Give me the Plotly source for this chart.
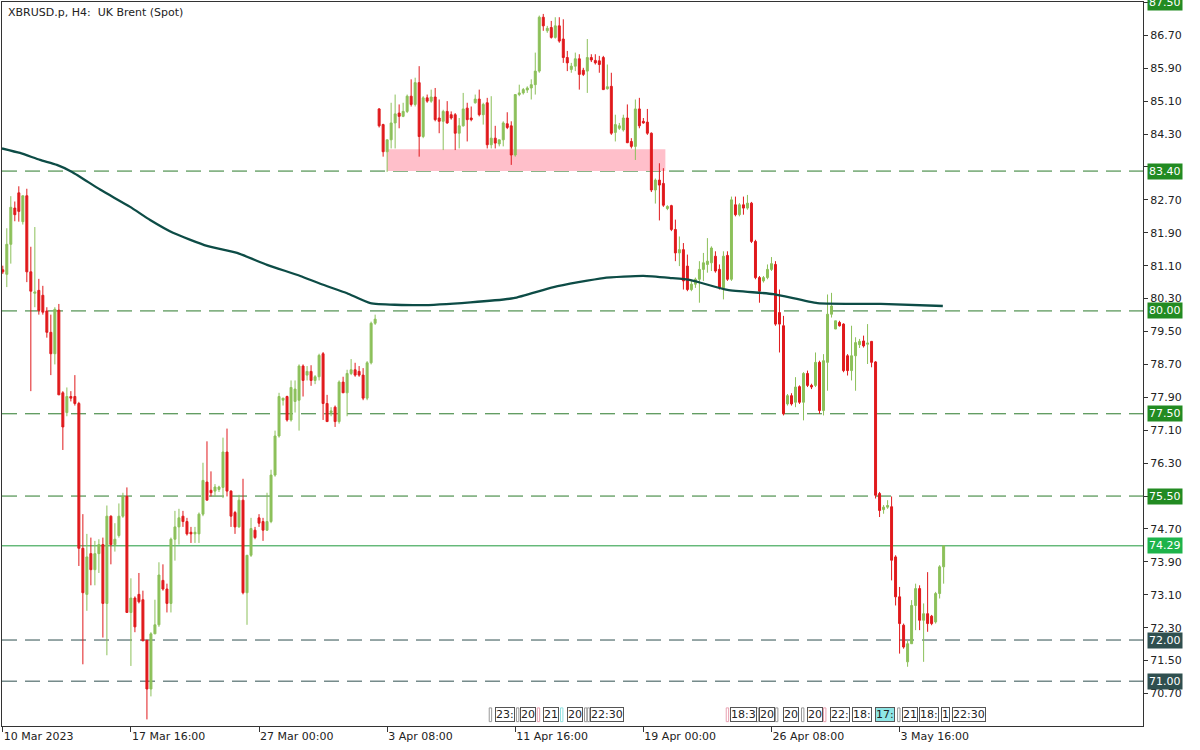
import plotly.graph_objects as go

title_text = "XBRUSD.p, H4:  UK Brent (Spot)"

opens = [81.00, 80.89, 81.62, 82.50, 82.87, 82.17, 82.80, 80.95, 80.43, 80.50,
         80.38, 80.00, 79.48, 78.96, 80.02, 78.01, 77.53, 77.92, 77.92, 77.75,
         74.23, 73.11, 74.10, 73.71, 74.10, 74.32, 72.89, 75.01, 74.32, 74.54,
         75.01, 75.49, 72.67, 73.02, 73.11, 72.98, 71.99, 70.81, 72.15, 72.37,
         73.45, 73.24, 72.89, 74.45, 74.75, 75.01, 74.88, 74.62, 74.58, 74.58,
         75.06, 75.84, 75.64, 75.62, 75.66, 75.71, 76.57, 75.62, 75.10, 74.75,
         75.40, 73.15, 74.06, 74.67, 74.97, 74.88, 74.67, 74.88, 76.01, 76.96,
         77.83, 77.92, 77.35, 77.80, 77.83, 78.66, 78.44, 78.53, 78.31, 78.40,
         78.96, 77.75, 77.53, 77.66, 77.31, 78.27, 78.01, 78.48, 78.57, 78.53,
         78.44, 77.88, 78.74, 79.70, 84.91, 84.53, 83.87, 84.16, 84.57, 84.81,
         84.73, 84.85, 85.22, 85.02, 85.55, 84.24, 85.18, 85.10, 85.20, 84.69,
         84.61, 84.85, 84.77, 84.77, 84.32, 84.50, 84.93, 84.69, 85.06, 85.15,
         84.77, 85.06, 84.04, 84.20, 84.06, 84.16, 84.55, 84.50, 83.79, 85.26,
         85.30, 85.37, 85.42, 85.50, 85.83, 87.14, 86.81, 86.89, 86.65, 86.93,
         86.61, 86.16, 85.87, 85.95, 86.13, 85.85, 85.83, 86.16, 86.09, 86.08,
         86.16, 85.40, 85.46, 84.34, 84.44, 84.40, 84.69, 84.12, 84.00, 84.91,
         84.61, 84.59, 84.32, 82.94, 83.18, 83.10, 82.49, 82.56, 81.98, 81.41,
         81.49, 81.09, 80.52, 80.65, 80.77, 81.01, 81.13, 81.17, 81.33, 81.01,
         80.56, 81.35, 80.77, 82.58, 82.34, 82.58, 82.50, 82.62, 81.69, 80.81,
         80.73, 80.81, 81.01, 81.13, 79.96, 79.64, 77.74, 77.94, 77.78, 78.16,
         77.78, 78.48, 78.19, 78.19, 78.75, 77.58, 78.75, 79.92, 79.56, 79.72,
         79.68, 78.91, 78.55, 78.91, 79.18, 79.27, 79.19, 79.26, 78.76, 75.56,
         75.17, 75.23, 75.24, 74.02, 73.05, 72.36, 71.47, 71.91, 72.84, 73.25,
         72.48, 72.64, 72.58, 72.44, 73.13, 73.78]

highs = [81.10, 82.01, 82.79, 82.66, 83.03, 82.80, 82.97, 81.56, 82.04, 80.78,
         80.61, 80.09, 79.91, 80.09, 80.17, 78.05, 78.14, 78.05, 78.44, 77.79,
         75.06, 74.58, 74.49, 74.41, 74.45, 74.49, 75.27, 75.03, 74.84, 75.32,
         75.58, 75.71, 73.50, 73.06, 73.63, 73.20, 72.01, 72.19, 72.98, 73.89,
         73.84, 73.37, 74.49, 75.14, 75.19, 75.14, 74.97, 74.75, 74.75, 75.10,
         76.31, 76.83, 76.10, 75.79, 75.75, 76.92, 77.14, 75.64, 75.14, 75.53,
         75.92, 74.06, 74.97, 74.75, 75.06, 74.97, 75.58, 76.14, 77.09, 78.01,
         77.88, 77.94, 78.31, 78.31, 78.70, 78.70, 78.66, 78.68, 78.44, 78.96,
         79.00, 77.96, 77.66, 77.70, 78.31, 78.40, 78.57, 78.83, 78.74, 78.66,
         78.61, 78.78, 79.74, 79.91, 84.93, 84.55, 84.16, 85.06, 85.26, 85.02,
         85.06, 85.26, 85.63, 85.67, 85.95, 85.22, 85.26, 85.38, 85.42, 85.14,
         84.89, 85.10, 84.85, 84.81, 84.69, 85.30, 85.06, 84.97, 85.26, 85.38,
         85.06, 85.18, 85.22, 84.50, 84.16, 84.61, 84.83, 84.61, 85.26, 85.50,
         85.42, 85.46, 85.63, 86.28, 87.18, 87.22, 86.93, 87.05, 87.14, 87.14,
         87.09, 86.32, 86.03, 86.28, 86.24, 85.91, 86.61, 86.24, 86.24, 86.20,
         86.20, 85.99, 85.79, 84.77, 84.57, 84.77, 85.02, 84.20, 85.14, 85.18,
         84.69, 84.91, 84.34, 83.22, 83.59, 83.47, 82.57, 82.58, 82.22, 81.81,
         81.65, 81.37, 80.73, 80.81, 81.21, 81.41, 81.77, 81.57, 81.45, 81.13,
         81.45, 81.45, 82.78, 82.78, 82.62, 82.78, 82.82, 82.65, 81.73, 80.85,
         80.85, 81.13, 81.31, 81.21, 80.52, 79.88, 77.98, 78.00, 78.39, 78.19,
         78.51, 78.55, 78.23, 78.99, 78.79, 78.95, 80.40, 80.44, 79.76, 79.76,
         79.70, 78.95, 79.64, 79.36, 79.32, 79.40, 79.68, 79.27, 78.78, 75.60,
         75.28, 75.40, 75.49, 74.06, 73.29, 72.40, 71.99, 72.97, 73.37, 73.33,
         72.89, 73.65, 72.61, 73.17, 73.82, 74.30]

lows = [80.90, 80.58, 81.15, 82.18, 82.17, 82.10, 80.70, 78.05, 80.09, 79.91,
        79.91, 79.35, 78.44, 78.70, 77.96, 76.62, 77.44, 77.80, 77.70, 73.80,
        71.41, 72.71, 73.33, 73.33, 73.63, 72.06, 71.63, 73.84, 74.15, 74.49,
        74.97, 72.67, 71.37, 72.19, 72.89, 71.98, 70.07, 70.63, 72.15, 72.32,
        73.20, 72.67, 72.67, 73.93, 74.32, 74.75, 74.54, 74.36, 74.36, 74.36,
        75.01, 75.40, 75.49, 75.49, 75.60, 75.45, 75.49, 74.75, 74.58, 74.73,
        73.11, 72.37, 74.02, 74.45, 74.75, 74.41, 74.65, 74.84, 75.97, 76.92,
        77.70, 77.31, 77.31, 77.53, 77.09, 77.92, 78.31, 78.18, 78.22, 78.31,
        77.35, 77.31, 77.44, 77.18, 77.26, 78.01, 77.44, 78.44, 78.40, 78.40,
        77.83, 77.83, 78.70, 79.66, 84.46, 83.75, 83.38, 83.95, 83.95, 84.44,
        84.71, 84.81, 84.97, 84.97, 83.75, 84.20, 85.06, 85.06, 84.61, 84.32,
        83.91, 84.55, 84.65, 83.91, 83.95, 84.48, 84.12, 84.61, 85.04, 84.73,
        84.53, 83.95, 83.95, 83.95, 84.00, 84.00, 84.42, 83.55, 83.75, 85.22,
        85.26, 85.30, 85.14, 85.26, 85.79, 86.81, 86.76, 86.62, 86.62, 86.52,
        86.03, 85.83, 85.79, 85.83, 85.38, 85.71, 85.30, 86.05, 85.99, 85.79,
        85.37, 85.38, 84.28, 84.12, 84.40, 84.36, 84.08, 83.95, 83.67, 84.44,
        84.55, 84.28, 82.89, 82.61, 82.20, 82.53, 82.45, 81.94, 81.21, 81.09,
        80.52, 80.48, 80.48, 80.56, 80.20, 80.73, 80.93, 80.97, 80.93, 80.52,
        80.28, 80.73, 80.73, 82.30, 82.30, 82.34, 82.46, 81.65, 80.77, 80.20,
        80.69, 80.77, 80.97, 79.64, 78.99, 77.46, 77.70, 77.70, 77.66, 77.74,
        77.34, 78.15, 78.10, 78.15, 77.50, 77.46, 78.06, 79.84, 79.56, 79.62,
        78.51, 78.43, 78.31, 78.06, 79.10, 79.11, 78.71, 78.63, 75.44, 74.99,
        75.07, 75.19, 73.45, 72.84, 71.67, 71.79, 71.35, 71.91, 72.24, 72.24,
        71.47, 72.20, 72.36, 72.40, 73.01, 73.37]

closes = [80.95, 81.62, 82.52, 82.34, 82.42, 82.80, 80.95, 80.48, 80.46, 80.01,
          79.97, 79.48, 78.96, 80.04, 77.96, 77.18, 77.92, 77.88, 77.75, 74.23,
          73.15, 74.02, 73.71, 74.10, 74.32, 72.89, 75.01, 74.32, 74.45, 75.01,
          75.49, 72.67, 73.02, 72.32, 72.93, 71.98, 70.81, 72.15, 72.37, 73.58,
          73.24, 72.89, 74.45, 74.75, 74.97, 74.88, 74.58, 74.58, 74.62, 75.06,
          75.88, 75.40, 75.58, 75.72, 75.72, 76.57, 75.62, 75.01, 74.75, 75.40,
          73.15, 74.06, 74.71, 74.49, 74.84, 74.67, 74.88, 76.01, 76.96, 77.92,
          77.88, 77.35, 78.14, 78.10, 78.66, 78.31, 78.53, 78.31, 78.40, 78.92,
          77.75, 77.31, 77.57, 77.31, 78.27, 78.01, 78.48, 78.57, 78.44, 78.44,
          77.88, 78.74, 79.70, 79.80, 84.50, 83.87, 84.16, 84.57, 84.79, 84.73,
          84.85, 85.22, 85.02, 85.55, 84.24, 85.18, 85.10, 85.20, 84.65, 84.61,
          84.85, 84.57, 84.69, 84.32, 84.50, 84.91, 84.65, 84.65, 85.15, 84.77,
          85.02, 84.04, 84.20, 84.08, 84.16, 84.57, 84.46, 83.79, 85.26, 85.30,
          85.38, 85.42, 85.50, 85.83, 87.14, 86.93, 86.87, 86.65, 86.93, 86.56,
          86.16, 86.03, 85.95, 86.13, 85.75, 85.75, 86.16, 86.10, 86.03, 85.99,
          85.38, 85.45, 84.32, 84.53, 84.50, 84.69, 84.09, 84.00, 84.91, 84.50,
          84.57, 84.32, 82.94, 83.18, 83.06, 82.57, 82.54, 81.98, 81.41, 81.49,
          80.73, 80.52, 80.65, 80.77, 81.01, 81.17, 81.21, 81.53, 80.97, 80.56,
          81.33, 80.77, 82.70, 82.34, 82.58, 82.50, 82.62, 81.69, 80.81, 80.48,
          80.81, 81.01, 81.15, 79.68, 79.68, 77.50, 77.94, 77.74, 78.15, 77.78,
          78.48, 78.19, 78.15, 78.75, 77.58, 78.79, 79.92, 80.12, 79.76, 79.64,
          78.55, 78.55, 78.91, 79.23, 79.26, 79.15, 79.22, 78.75, 75.52, 75.15,
          75.23, 75.27, 73.94, 73.05, 72.40, 71.83, 71.91, 72.84, 73.25, 72.48,
          72.64, 72.40, 72.40, 73.13, 73.78, 74.29]

bar_index = list(range(len(opens)))

# moving average
ma_index = [-0.2, 4.3, 9.3, 13.5, 17.3, 24.3, 31.8, 36.8, 42.5, 51.0, 58.5, 66.0,
            74.3, 79.3, 86.0, 91.8, 104.3, 116.8, 127.6, 137.6, 150.0, 160.0,
            166.8, 171.8, 181.0, 192.5, 203.5, 219.3, 234.8]
ma_values = [83.95, 83.84, 83.67, 83.55, 83.38, 82.95, 82.53, 82.21, 81.90, 81.58,
             81.41, 81.12, 80.85, 80.66, 80.43, 80.19, 80.14, 80.21, 80.31, 80.58,
             80.80, 80.85, 80.80, 80.75, 80.51, 80.41, 80.19, 80.17, 80.12]

time_tick_index = [0, 32, 64, 96, 128, 160, 192, 224]
time_tick_labels = ["10 Mar 2023", "17 Mar 16:00", "27 Mar 00:00", "3 Apr 08:00",
                    "11 Apr 16:00", "19 Apr 00:00", "26 Apr 08:00", "3 May 16:00"]

price_ticks = [70.70, 71.50, 72.30, 73.10, 73.90, 74.70, 75.50, 76.30, 77.10, 77.90,
               78.70, 79.50, 80.30, 81.10, 81.90, 82.70, 83.50, 84.30, 85.10, 85.90,
               86.70, 87.50]
# tick labels that sit under a price box in the reference are left blank
hidden_tick_labels = [75.50, 83.50, 87.50]

levels_green = [83.40, 80.00, 77.50, 75.50]
levels_dark = [72.00, 71.00]
last_price = 74.29
top_price = 87.50

zone_start, zone_end = 96, 165.5
zone_low, zone_high = 83.40, 83.93

event_labels = ["23:", "20", "21", "20", "22:30", "18:3", "20", "20", "20",
                "22:", "18:", "17:", "21", "18:", "1", "22:30"]
event_pos = [125.5, 131.3, 137.0, 142.8, 151.0, 185.0, 190.8, 196.8, 202.8,
             209.0, 214.6, 220.3, 226.5, 231.3, 235.4, 241.3]
event_marks = [121.8, 128.6, 133.8, 139.6, 145.6, 146.3, 181.0, 188.5, 193.3,
               199.8, 205.3, 223.8]
event_mark_colors = ["#999", "#999", "#e8a0b0", "#8fe0e0", "#999", "#999", "#e8a0b0",
                     "#999", "#999", "#999", "#e8a0b0", "#999"]

GREEN = "#8cc05a"
RED = "#e0191c"
FONT = "DejaVu Sans"

fig = go.Figure()
fig.add_trace(go.Candlestick(
    x=bar_index, open=opens, high=highs, low=lows, close=closes,
    increasing=dict(line=dict(color=GREEN, width=1), fillcolor=GREEN),
    decreasing=dict(line=dict(color=RED, width=1), fillcolor=RED),
    whiskerwidth=0, showlegend=False, hoverinfo="skip"))
fig.add_trace(go.Scatter(
    x=ma_index, y=ma_values, mode="lines", showlegend=False, hoverinfo="skip",
    line=dict(color="#0d4c46", width=2.3, shape="spline", smoothing=0.5)))

shapes = []
shapes.append(dict(type="rect", xref="x", yref="y", x0=zone_start, x1=zone_end,
                   y0=zone_low, y1=zone_high, fillcolor="#ffbfca",
                   line=dict(width=0), layer="below"))
for lv in levels_green:
    shapes.append(dict(type="line", xref="paper", yref="y", x0=0, x1=1, y0=lv, y1=lv,
                       line=dict(color="#2b7a2b", width=1, dash="15px,8px"), layer="below"))
for lv in levels_dark:
    shapes.append(dict(type="line", xref="paper", yref="y", x0=0, x1=1, y0=lv, y1=lv,
                       line=dict(color="#2f4f4f", width=1, dash="15px,8px"), layer="below"))
shapes.append(dict(type="line", xref="paper", yref="y", x0=0, x1=1, y0=last_price,
                   y1=last_price, line=dict(color="#1f9a3c", width=1), layer="below"))
for xm, col in zip(event_marks, event_mark_colors):
    shapes.append(dict(type="rect", xref="x", yref="paper", x0=xm - 0.3, x1=xm + 0.3,
                       y0=0.006, y1=0.025, line=dict(color=col, width=1),
                       fillcolor="white"))

annotations = [dict(xref="paper", yref="paper", x=0, y=1, xanchor="left", yanchor="top",
                    xshift=4, yshift=-2, text=title_text, showarrow=False,
                    font=dict(family=FONT, size=11, color="#222"))]

def price_box(val, color):
    return dict(xref="paper", yref="y", x=1, y=val, xanchor="left", yanchor="middle",
                xshift=4, text=f"{val:.2f}", showarrow=False, bgcolor=color,
                borderpad=1, font=dict(family=FONT, size=11, color="white"))

annotations.append(price_box(top_price, "#228b22"))
for lv in levels_green:
    annotations.append(price_box(lv, "#228b22"))
annotations.append(price_box(last_price, "#1db34a"))
for lv in levels_dark:
    annotations.append(price_box(lv, "#2f4f4f"))

for lab, xp in zip(event_labels, event_pos):
    annotations.append(dict(xref="x", yref="paper", x=xp, y=0.0155, xanchor="center",
                            yanchor="middle", text=lab, showarrow=False,
                            bgcolor="#8fe6e6" if lab == "17:" else "white",
                            bordercolor="#555", borderwidth=1, borderpad=0,
                            font=dict(family=FONT, size=11, color="#222")))

price_tick_text = ["" if v in hidden_tick_labels else f"{v:.2f}" for v in price_ticks]

fig.update_layout(
    width=1200, height=750,
    margin=dict(l=2, r=57, t=2, b=24),
    paper_bgcolor="white", plot_bgcolor="white",
    shapes=shapes, annotations=annotations,
    xaxis=dict(range=[-0.2, 284.8], tickmode="array", tickvals=time_tick_index,
               ticktext=time_tick_labels, ticks="outside", ticklen=5, tickcolor="#333",
               ticklabelposition="outside right",
               showline=True, mirror=True, linecolor="#333", linewidth=1,
               showgrid=False, zeroline=False, rangeslider=dict(visible=False),
               tickfont=dict(family=FONT, size=11, color="#222")),
    yaxis=dict(side="right", range=[69.91, 87.51], tickmode="array", tickvals=price_ticks,
               ticktext=price_tick_text, ticks="outside", ticklen=4, tickcolor="#333",
               showline=True, mirror=True, linecolor="#333", linewidth=1,
               showgrid=False, zeroline=False,
               tickfont=dict(family=FONT, size=11, color="#222")),
)

fig.write_html("out.html", config={"displayModeBar": False},
               post_script="document.body.style.margin='0';")
